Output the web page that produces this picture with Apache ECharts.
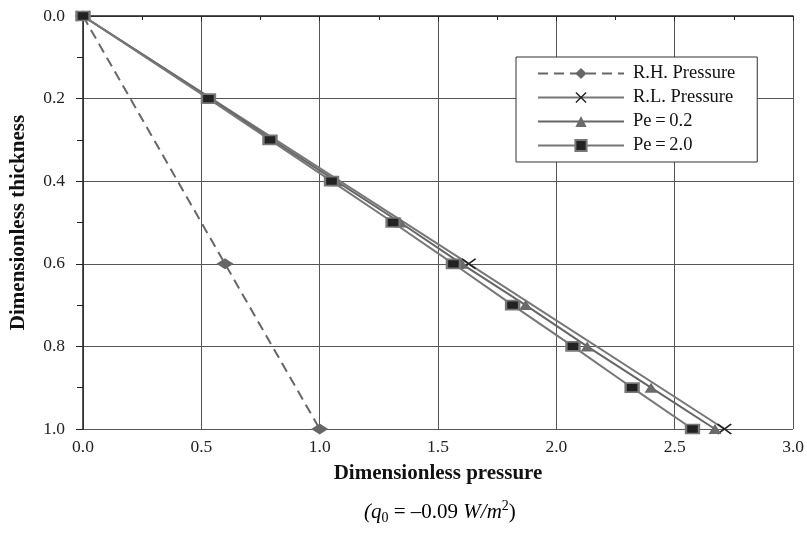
<!DOCTYPE html>
<html>
<head>
<meta charset="utf-8">
<script src="https://cdn.jsdelivr.net/npm/echarts@6/dist/echarts.min.js"></script>
<style>html,body{margin:0;padding:0;background:#fff;}#c{width:807px;height:534px;}</style>
</head>
<body>
<div id="c"></div>
<script>
// Data (dimensionless thickness vs dimensionless pressure)
var seriesNames = ['R.H. Pressure', 'R.L. Pressure', 'Pe\u2009=\u20090.2', 'Pe\u2009=\u20092.0'];
var rhThickness = [0.0, 0.6, 1.0];
var rhPressure  = [0.0, 0.6, 1.0];
var rlThickness = [0.0, 0.6, 1.0];
var rlPressure  = [0.0, 1.63, 2.71];
var pe02Thickness = [0.0, 0.2, 0.3, 0.4, 0.5, 0.6, 0.7, 0.8, 0.9, 1.0];
var pe02Pressure  = [0.0, 0.54, 0.80, 1.07, 1.34, 1.60, 1.87, 2.13, 2.40, 2.67];
var pe20Thickness = [0.0, 0.2, 0.3, 0.4, 0.5, 0.6, 0.7, 0.8, 0.9, 1.0];
var pe20Pressure  = [0.0, 0.53, 0.79, 1.05, 1.31, 1.565, 1.815, 2.07, 2.32, 2.575];
var xTicks = [0, 0.5, 1.0, 1.5, 2.0, 2.5, 3.0];
var yTicks = [0, 0.2, 0.4, 0.6, 0.8, 1.0];

function pairs(xs, ys) { return xs.map(function (x, i) { return [x, ys[i]]; }); }

var FONT = '"Liberation Serif", "Times New Roman", serif';
var xMark = 'path://M0,0.9 L0.9,0 L5,4.1 L9.1,0 L10,0.9 L5.9,5 L10,9.1 L9.1,10 L5,5.9 L0.9,10 L0,9.1 L4.1,5 Z';

var chart = echarts.init(document.getElementById('c'), null, {renderer: 'canvas'});
chart.setOption({
  animation: false,
  backgroundColor: '#fff',
  textStyle: {fontFamily: FONT},
  grid: {left: 82, right: 11, top: 16, bottom: 105, containLabel: false},
  xAxis: {
    type: 'value', min: xTicks[0], max: xTicks[xTicks.length - 1], interval: 0.5,
    name: 'Dimensionless pressure', nameLocation: 'middle', nameGap: 34,
    nameTextStyle: {fontFamily: FONT, fontSize: 21, fontWeight: 'bold', color: '#111'},
    axisLine: {show: true, lineStyle: {color: '#222', width: 1.5}},
    axisTick: {show: true, length: 5, lineStyle: {color: '#222'}},
    minorTick: {show: true, splitNumber: 2, length: 4, lineStyle: {color: '#222'}},
    axisLabel: {fontFamily: FONT, fontSize: 17.5, color: '#222', margin: 9,
      formatter: function (v) { return v.toFixed(1); }},
    splitLine: {show: true, lineStyle: {color: '#555', width: 1}}
  },
  yAxis: {
    type: 'value', inverse: true, min: yTicks[0], max: yTicks[yTicks.length - 1], interval: 0.2,
    name: 'Dimensionless thickness', nameLocation: 'middle', nameGap: 54,
    nameTextStyle: {fontFamily: FONT, fontSize: 21, fontWeight: 'bold', color: '#111'},
    axisLine: {show: true, lineStyle: {color: '#222', width: 1.5}},
    axisTick: {show: true, length: 7, lineStyle: {color: '#222'}},
    minorTick: {show: true, splitNumber: 2, length: 6, lineStyle: {color: '#222'}},
    axisLabel: {fontFamily: FONT, fontSize: 17.5, color: '#222', margin: 18,
      formatter: function (v) { return v.toFixed(1); }},
    splitLine: {show: true, lineStyle: {color: '#555', width: 1}}
  },
  legend: {
    orient: 'vertical', left: 516, top: 57,
    data: seriesNames,
    itemWidth: 86, itemHeight: 14, itemGap: 5,
    padding: [7, 22, 7, 21],
    backgroundColor: '#fff', borderColor: '#333', borderWidth: 1, borderRadius: 0,
    textStyle: {fontFamily: FONT, fontSize: 18.5, lineHeight: 18, color: '#111', padding: [0, 0, 0, 4]}
  },
  series: [
    {
      name: seriesNames[0], type: 'line', data: pairs(rhPressure, rhThickness),
      symbol: 'diamond', symbolSize: [17, 11],
      itemStyle: {color: '#666'},
      lineStyle: {color: '#666', width: 2, type: [10, 6]},
      z: 3
    },
    {
      name: seriesNames[1], type: 'line', data: pairs(rlPressure, rlThickness),
      symbol: xMark, symbolSize: [15, 11],
      itemStyle: {color: '#222'},
      lineStyle: {color: '#777', width: 2},
      z: 4
    },
    {
      name: seriesNames[2], type: 'line', data: pairs(pe02Pressure, pe02Thickness),
      symbol: 'triangle', symbolSize: [13, 10],
      itemStyle: {color: '#6a6a6a'},
      lineStyle: {color: '#666', width: 2},
      z: 5
    },
    {
      name: seriesNames[3], type: 'line', data: pairs(pe20Pressure, pe20Thickness),
      symbol: 'rect', symbolSize: [13, 9],
      itemStyle: {color: '#222', borderColor: '#777', borderWidth: 2},
      lineStyle: {color: '#777', width: 2},
      z: 6
    }
  ],
  graphic: [{
    type: 'text', left: 364, top: 499,
    style: {
      text: '{i|(q}{sub|0}{n| = \u20130.09 }{i|W/m}{sup|2}{n|)}',
      fontFamily: FONT,
      rich: {
        i: {fontFamily: FONT, fontSize: 21, fontStyle: 'italic', color: '#111', lineHeight: 26, verticalAlign: 'middle'},
        n: {fontFamily: FONT, fontSize: 21, color: '#111', lineHeight: 26, verticalAlign: 'middle'},
        sub: {fontFamily: FONT, fontSize: 14, color: '#111', lineHeight: 26, verticalAlign: 'bottom'},
        sup: {fontFamily: FONT, fontSize: 14, color: '#111', lineHeight: 26, verticalAlign: 'top'}
      }
    }
  }]
});
</script>
</body>
</html>
